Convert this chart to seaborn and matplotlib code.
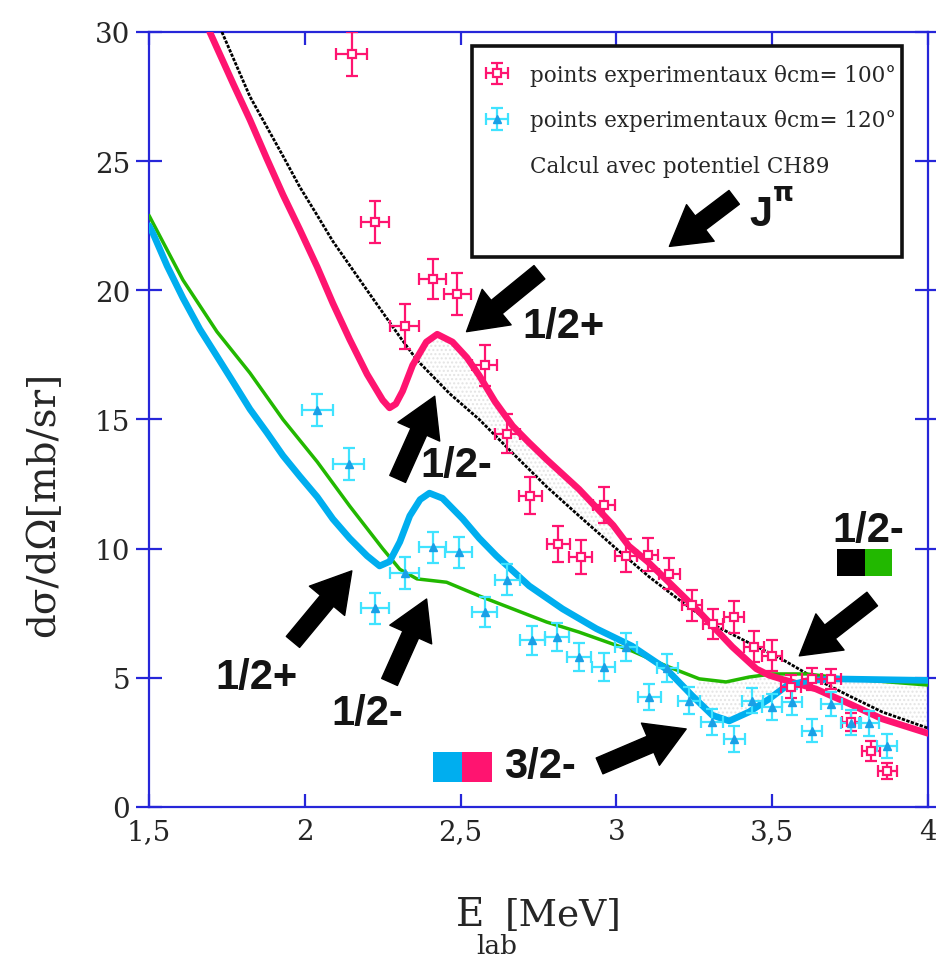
import numpy as np
import matplotlib
matplotlib.use("Agg")
import matplotlib.pyplot as plt
from matplotlib.patches import Rectangle
from matplotlib.lines import Line2D
import seaborn as sns

# ---------------- data ----------------
# experimental points, theta_cm = 100 deg (magenta)
e100 = [2.15, 2.224, 2.32, 2.41, 2.49, 2.577, 2.65, 2.724, 2.814, 2.885, 2.96, 3.03,
        3.10, 3.17, 3.243, 3.31, 3.378, 3.442, 3.50, 3.561, 3.628, 3.69, 3.753, 3.817, 3.869]
s100 = [29.15, 22.65, 18.6, 20.45, 19.85, 17.1, 14.45, 12.05, 10.18, 9.68, 11.7, 9.72,
        9.76, 9.02, 7.8, 7.1, 7.36, 6.2, 5.85, 4.65, 4.96, 4.96, 3.3, 2.17, 1.4]
ds100 = [0.84, 0.82, 0.88, 0.78, 0.82, 0.8, 0.75, 0.72, 0.68, 0.65, 0.7, 0.64,
         0.64, 0.6, 0.6, 0.58, 0.62, 0.6, 0.6, 0.45, 0.42, 0.4, 0.34, 0.38, 0.3]
de100 = [0.05, 0.045, 0.045, 0.043, 0.043, 0.04, 0.04, 0.038, 0.036, 0.036, 0.036, 0.035,
         0.035, 0.034, 0.033, 0.033, 0.033, 0.033, 0.032, 0.032, 0.032, 0.032, 0.03, 0.03, 0.03]

# experimental points, theta_cm = 120 deg (cyan)
e120 = [2.04, 2.141, 2.224, 2.32, 2.41, 2.494, 2.577, 2.65, 2.73, 2.81, 2.88, 2.96,
        3.03, 3.106, 3.164, 3.234, 3.308, 3.378, 3.436, 3.50, 3.564, 3.628, 3.69, 3.753, 3.81, 3.869]
s120 = [15.37, 13.28, 7.7, 9.06, 10.06, 9.87, 7.55, 8.8, 6.45, 6.58, 5.81, 5.42,
        6.2, 4.26, 5.38, 4.12, 3.3, 2.63, 4.12, 3.87, 4.08, 2.96, 3.99, 3.26, 3.24, 2.36]
ds120 = [0.63, 0.61, 0.6, 0.62, 0.6, 0.6, 0.58, 0.6, 0.56, 0.56, 0.55, 0.55,
         0.55, 0.52, 0.55, 0.52, 0.5, 0.5, 0.5, 0.5, 0.5, 0.45, 0.48, 0.48, 0.48, 0.48]
de120 = [0.05, 0.05, 0.045, 0.045, 0.043, 0.043, 0.04, 0.04, 0.04, 0.038, 0.038, 0.037,
         0.036, 0.036, 0.035, 0.035, 0.035, 0.034, 0.034, 0.033, 0.033, 0.033, 0.033, 0.033, 0.033, 0.033]

# calculation CH89, magenta curve (100 deg)
m_x = [1.695, 1.77, 1.824, 1.878, 1.93, 1.984, 2.04, 2.09, 2.144, 2.2, 2.25, 2.272, 2.292,
       2.314, 2.346, 2.39, 2.425, 2.474, 2.52, 2.56, 2.61, 2.667, 2.72, 2.776, 2.88, 2.99,
       3.04, 3.10, 3.16, 3.266, 3.372, 3.449, 3.49, 3.53, 3.64, 3.747, 3.853, 4.0]
m_y = [30.0, 28.0, 26.6, 25.1, 23.7, 22.35, 20.9, 19.5, 18.1, 16.75, 15.75, 15.45, 15.6,
       16.1, 17.1, 18.0, 18.3, 18.0, 17.4, 16.7, 15.7, 14.75, 14.1, 13.45, 12.3, 10.9,
       10.1, 9.5, 8.8, 7.55, 6.2, 5.35, 5.1, 4.95, 4.57, 4.0, 3.41, 2.85]

# calculation, black curve
k_x = [1.734, 1.824, 1.93, 1.984, 2.04, 2.09, 2.2, 2.305, 2.36, 2.465, 2.56, 2.667, 2.776,
       2.88, 2.99, 3.106, 3.21, 3.32, 3.426, 3.53, 3.64, 3.747, 3.853, 4.0]
k_y = [30.0, 27.5, 25.2, 24.0, 22.9, 21.9, 20.0, 18.2, 17.3, 16.0, 15.0, 13.7, 12.4,
       11.27, 10.1, 8.9, 7.94, 7.0, 6.35, 5.73, 4.96, 4.3, 3.68, 3.05]

# calculation, cyan curve (120 deg)
c_x = [1.5, 1.513, 1.558, 1.609, 1.663, 1.718, 1.77, 1.824, 1.878, 1.93, 1.984, 2.04, 2.09,
       2.144, 2.2, 2.24, 2.272, 2.305, 2.337, 2.37, 2.40, 2.442, 2.507, 2.56, 2.615, 2.72,
       2.827, 2.936, 3.05, 3.16, 3.244, 3.308, 3.362, 3.426, 3.49, 3.545, 3.61, 3.692, 4.0]
c_y = [22.5, 22.2, 20.95, 19.7, 18.5, 17.45, 16.45, 15.4, 14.5, 13.6, 12.8, 12.0, 11.15,
       10.4, 9.72, 9.33, 9.5, 10.26, 11.27, 11.9, 12.15, 11.95, 11.15, 10.4, 9.72, 8.56,
       7.67, 6.9, 6.23, 5.34, 4.3, 3.55, 3.33, 3.68, 4.18, 4.68, 4.88, 4.96, 4.9]

# calculation, green curve
g_x = [1.5, 1.513, 1.609, 1.718, 1.824, 1.93, 2.04, 2.144, 2.25, 2.305, 2.36, 2.455, 2.56,
       2.667, 2.776, 2.88, 2.99, 3.05, 3.16, 3.266, 3.352, 3.426, 3.5, 3.61, 3.747, 4.0]
g_y = [22.9, 22.6, 20.4, 18.4, 16.8, 15.0, 13.36, 11.65, 10.0, 9.2, 8.83, 8.7, 8.17,
       7.67, 7.16, 6.77, 6.3, 6.04, 5.46, 4.96, 4.84, 5.03, 5.15, 5.15, 4.96, 4.72]

xticks = [1.5, 2, 2.5, 3, 3.5, 4]
xticklabels = ["1,5", "2", "2,5", "3", "3,5", "4"]
yticks = [0, 5, 10, 15, 20, 25, 30]

MAGENTA = "#ff1470"
CYAN_LINE = "#00aeef"
CYAN_PTS = "#1aa0e6"
CYAN_ERR = "#3fe3ff"
GREEN = "#22b800"
BLUE_AX = "#2626d9"

sns.set_style("white")
plt.rcParams["font.family"] = ["DejaVu Serif", "Liberation Serif"]

fig = plt.figure(figsize=(9.37, 9.62), dpi=100)
ax = fig.add_axes([0.159, 0.1601, 0.8314, 0.8056])

# stippled areas between the curves
def band(xa, ya, xb, yb, lo, hi):
    top = [(x, y) for x, y in zip(xa, ya) if lo <= x <= hi]
    bot = [(x, y) for x, y in zip(xb, yb) if lo <= x <= hi][::-1]
    pts = np.array(top + bot)
    ax.fill(pts[:, 0], pts[:, 1], facecolor="none", edgecolor="#e4e4e4",
            hatch="....", lw=0, zorder=1)

band(m_x, m_y, k_x, k_y, 2.346, 2.99)
band(g_x, g_y, c_x, c_y, 3.2, 3.6)
band(c_x, c_y, k_x, k_y, 3.61, 4.0)

# calculated curves
sns.lineplot(x=k_x, y=k_y, ax=ax, color="black", lw=2.0, sort=False,
             estimator=None, linestyle=(0, (1.2, 0.5)), zorder=3)
sns.lineplot(x=g_x, y=g_y, ax=ax, color=GREEN, lw=2.5, sort=False,
             estimator=None, zorder=3)
sns.lineplot(x=m_x, y=m_y, ax=ax, color=MAGENTA, lw=4.8, sort=False,
             estimator=None, zorder=4)
sns.lineplot(x=c_x, y=c_y, ax=ax, color=CYAN_LINE, lw=4.8, sort=False,
             estimator=None, zorder=4)

# experimental points
h100 = ax.errorbar(e100, s100, yerr=ds100, xerr=de100, fmt="s", ms=5.5,
                   mfc="white", mec=MAGENTA, mew=1.6, ecolor=MAGENTA,
                   elinewidth=1.6, capsize=4, capthick=1.6, zorder=5,
                   label="points experimentaux \u03b8cm= 100\u00b0")
h120 = ax.errorbar(e120, s120, yerr=ds120, xerr=de120, fmt="^", ms=5.5,
                   mfc=CYAN_PTS, mec=CYAN_PTS, ecolor=CYAN_ERR,
                   elinewidth=1.6, capsize=4, capthick=1.6, zorder=5,
                   label="points experimentaux \u03b8cm= 120\u00b0")
hcalc = Line2D([], [], linestyle="none", marker="none",
               label="Calcul avec potentiel CH89")

ax.set_xlim(1.5, 4)
ax.set_ylim(0, 30)
ax.set_xticks(xticks)
ax.set_xticklabels(xticklabels)
ax.set_yticks(yticks)

for sp in ax.spines.values():
    sp.set_color(BLUE_AX)
    sp.set_linewidth(1.6)
    sp.set_visible(True)

ax.tick_params(axis="both", which="major", color=BLUE_AX, width=1.6,
               length=9.5, direction="in", labelsize=20, pad=8,
               top=True, right=True, bottom=True, left=True)
ax.tick_params(axis="y", which="major", direction="inout", length=19, pad=4)
ax.tick_params(axis="y", which="major", right=True)

# legend box
ax.add_patch(Rectangle((0.4146, 0.71), 0.5524, 0.272, transform=ax.transAxes,
                       facecolor="white", edgecolor="#111111", lw=2.6, zorder=6))
leg = ax.legend(handles=[h100, h120, hcalc], loc="upper left",
                bbox_to_anchor=(0.403, 0.982), frameon=False, fontsize=15.5,
                handlelength=1.49, handletextpad=0.79, labelspacing=1.08,
                borderpad=0.84, borderaxespad=0)
leg.set_zorder(7)

# arrows (tail -> head)
arrows = [((3.378, 23.6), (3.17, 21.7)),
          ((2.753, 20.7), (2.519, 18.4)),
          ((2.298, 12.7), (2.417, 15.9)),
          ((1.962, 6.39), (2.151, 9.14)),
          ((2.272, 4.84), (2.391, 8.05)),
          ((2.946, 1.59), (3.224, 3.02)),
          ((3.821, 8.05), (3.587, 5.85))]
for tail, head in arrows:
    ax.annotate("", xy=head, xytext=tail, zorder=8,
                arrowprops=dict(arrowstyle="simple,head_length=1.4,head_width=1.65,tail_width=0.62",
                                mutation_scale=20, color="black", shrinkA=0, shrinkB=0))

bold = dict(family=["Liberation Sans", "DejaVu Sans"], fontweight="bold",
            fontsize=30, color="#141414", ha="center", va="center", zorder=9)
ax.text(2.83, 18.6, "1/2+", **bold)
ax.text(2.487, 13.24, "1/2-", **bold)
ax.text(1.846, 5.03, "1/2+", **bold)
ax.text(2.199, 3.64, "1/2-", **bold)
ax.text(2.753, 1.59, "3/2-", **bold)
ax.text(3.808, 10.72, "1/2-", **bold)
ax.text(3.465, 22.95, "J", **bold)
ax.text(3.535, 23.75, "\u03c0", family=["DejaVu Sans"], fontweight="bold",
        fontsize=19, color="#141414", ha="center", va="center", zorder=9)

# colour swatches
ax.add_patch(Rectangle((2.41, 0.97), 0.096, 1.16, facecolor=CYAN_LINE, lw=0, zorder=9))
ax.add_patch(Rectangle((2.506, 0.97), 0.096, 1.16, facecolor=MAGENTA, lw=0, zorder=9))
ax.add_patch(Rectangle((3.708, 8.94), 0.09, 1.05, facecolor="black", lw=0, zorder=9))
ax.add_patch(Rectangle((3.798, 8.94), 0.087, 1.05, facecolor=GREEN, lw=0, zorder=9))

# axis titles
ax.set_ylabel("d\u03c3/d\u03a9[mb/sr]", fontsize=28)
ax.yaxis.set_label_coords(-0.112, 0.392)
fig.text(470 / 937, 1 - 916 / 962, "E", fontsize=28, ha="center", va="center")
fig.text(497 / 937, 1 - 947 / 962, "lab", fontsize=19, ha="center", va="center")
fig.text(563 / 937, 1 - 916 / 962, "[MeV]", fontsize=27, ha="center", va="center")

fig.savefig("out.png", dpi=100)
